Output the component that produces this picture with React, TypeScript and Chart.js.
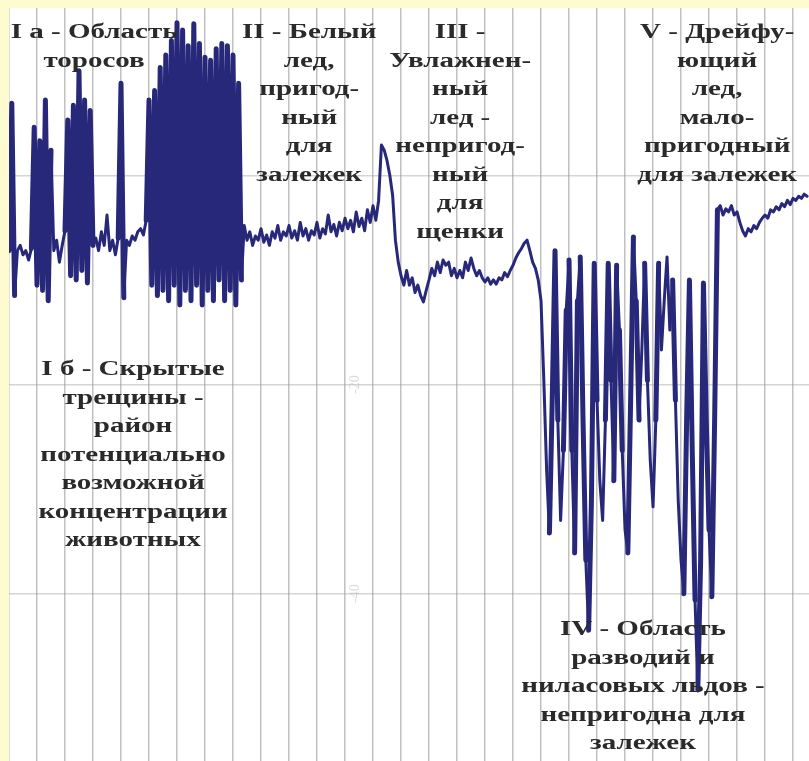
import React, { useEffect, useRef } from "react";
import { Chart, registerables } from "chart.js";

Chart.register(...registerables);

// Signal samples (one per distance unit, 0..285), in dB-like units
const signalValues: number[] = [
  -7.2, 6.9, -11.5, -7.2, -6.7, -7.6, -7.2, -8.1, -7.0, 4.6,
  -10.5, 3.3, -11.0, 7.2, -12.0, 2.4, -7.2, -6.2, -8.3, -6.7,
  -5.3, 5.3, -9.6, 6.7, -10.0, 10.0, -9.1, 7.2, -10.3, 6.2,
  -6.7, -6.0, -7.2, -5.4, -6.7, -3.8, -7.2, -6.2, -7.6, -6.0,
  8.8, -11.7, -6.2, -6.7, -5.8, -6.2, -5.4, -5.1, -5.7, -4.3,
  7.2, -10.5, 8.1, -11.5, 10.3, -11.0, 11.5, -12.0, 12.9, -10.5,
  14.6, -12.4, 13.9, -11.0, 12.4, -12.0, 14.5, -10.5, 12.6, -12.4,
  11.3, -11.0, 11.0, -12.0, 12.1, -10.0, 12.6, -12.0, 12.4, -11.0,
  11.5, -12.4, 8.8, -10.0, -4.8, -6.2, -5.4, -6.7, -5.8, -6.2,
  -5.1, -6.4, -5.7, -6.7, -5.4, -6.0, -4.8, -6.2, -5.4, -5.8,
  -4.8, -6.0, -5.3, -6.2, -4.5, -5.8, -5.1, -6.2, -5.3, -5.7,
  -4.5, -6.0, -5.1, -5.6, -3.8, -5.4, -4.7, -5.8, -4.5, -5.3,
  -4.1, -5.1, -4.3, -5.4, -3.5, -4.9, -4.1, -5.3, -3.3, -4.5,
  -2.9, -4.3, -2.4, 2.9, 2.4, 1.4, 0, -1.9, -6.2, -8.3,
  -9.6, -10.5, -9.1, -10.5, -9.8, -11.2, -10.5, -11.5, -12.1, -11.0,
  -10.0, -8.9, -9.6, -8.3, -9.3, -8.1, -8.6, -8.3, -9.6, -8.9,
  -9.8, -9.1, -9.8, -8.3, -9.1, -7.9, -8.9, -9.6, -9.1, -9.8,
  -10.2, -9.8, -10.4, -10.0, -10.4, -9.8, -10.0, -9.3, -9.7, -9.1,
  -8.6, -7.9, -7.4, -7.0, -6.5, -6.2, -7.2, -8.3, -8.9, -10.0,
  -12.0, -19.6, -28.2, -34.2, -21.5, -7.2, -23.4, -33.0, -26.3, -12.9,
  -8.1, -26.3, -36.1, -12.0, -7.8, -23.4, -36.8, -43.5, -31.1, -8.4,
  -21.5, -29.2, -33.0, -23.4, -8.4, -19.6, -29.2, -8.6, -14.8, -26.3,
  -33.9, -36.1, -21.5, -5.9, -12.0, -23.4, -16.7, -8.4, -19.6, -27.2,
  -31.7, -23.4, -8.4, -16.7, -12.0, -7.8, -14.8, -10.0, -21.5, -31.1,
  -36.8, -40.0, -23.4, -10.0, -26.3, -40.6, -49.2, -36.8, -10.3, -23.4,
  -33.9, -40.3, -23.4, -3.3, -2.9, -3.8, -3.2, -3.5, -2.9, -3.8,
  -3.5, -4.5, -5.3, -5.8, -5.1, -5.4, -4.8, -5.1, -4.5, -4.1,
  -3.8, -4.1, -3.3, -3.5, -3.0, -3.3, -2.7, -3.0, -2.4, -2.8,
  -2.2, -2.4, -2.0, -2.2, -1.8, -2.0,
];

// Axis ranges and grid ticks
const xMin = 0;
const xMax = 285.7;
const xGridTicks: number[] = [0, 10, 20, 30, 40, 50, 60, 70, 80, 90, 100, 110, 120, 130, 140, 150, 160, 170, 180, 190, 200, 210, 220, 230, 240, 250, 260, 270, 280];
const yMin = -56;
const yMax = 16;
const yGridTicks: number[] = [-40, -20, 0];
const yTickLabels: string[] = ["-20", "-40"];
const yTickLabelValues: number[] = [-20, -40];
const yTickLabelX = 123.6;

// Zone annotations
const annotationLines: string[][] = [
  ["I а - Область", "торосов"],
  ["II - Белый", "лед,", "пригод-", "ный", "для", "залежек"],
  ["III -", "Увлажнен-", "ный", "лед -", "непригод-", "ный", "для", "щенки"],
  ["V - Дрейфу-", "ющий", "лед,", "мало-", "пригодный", "для залежек"],
  ["I б - Скрытые", "трещины -", "район", "потенциально", "возможной", "концентрации", "животных"],
  ["IV - Область", "разводий и", "ниласовых льдов -", "непригодна для", "залежек"],
];
const annotationX: number[] = [30.4, 107.2, 161.1, 252.9, 44.3, 226.4];
const annotationY: number[] = [13.6, 13.6, 13.6, 13.6, -18.6, -43.5];

const TEXT_SIZE = 20;
const LINE_STEP = 28.5;
const STRETCH = 1.45;

const annotationPlugin = {
  id: "zoneAnnotations",
  afterDatasetsDraw(chart: any) {
    const { ctx, scales } = chart;
    const xs = scales.x;
    const ys = scales.y;
    ctx.save();
    ctx.font = `14px "Liberation Serif", serif`;
    ctx.fillStyle = "rgba(190,190,190,0.55)";
    ctx.textAlign = "center";
    ctx.textBaseline = "middle";
    yTickLabels.forEach((t, k) => {
      ctx.save();
      ctx.translate(xs.getPixelForValue(yTickLabelX), ys.getPixelForValue(yTickLabelValues[k]));
      ctx.rotate(-Math.PI / 2);
      ctx.fillText(t, 0, 0);
      ctx.restore();
    });
    ctx.font = `bold ${TEXT_SIZE}px "Liberation Serif", "Times New Roman", serif`;
    ctx.fillStyle = "#2a2a2a";
    annotationLines.forEach((lines, i) => {
      const cx = xs.getPixelForValue(annotationX[i]);
      const cy = ys.getPixelForValue(annotationY[i]);
      lines.forEach((line, k) => {
        ctx.save();
        ctx.translate(cx, cy + k * LINE_STEP);
        ctx.scale(STRETCH, 1);
        ctx.fillText(line, 0, 0);
        ctx.restore();
      });
    });
    ctx.restore();
  },
};

export default function App() {
  const canvasRef = useRef<HTMLCanvasElement | null>(null);

  useEffect(() => {
    if (!canvasRef.current) return;
    const points = signalValues.map((v, i) => ({ x: i, y: v }));
    const chart = new Chart(canvasRef.current, {
      type: "line",
      data: {
        datasets: [
          {
            data: points,
            borderColor: "#28287a",
            borderWidth: 3,
            borderCapStyle: "round",
            borderJoinStyle: "round",
            pointRadius: 0,
            tension: 0,
            fill: false,
            segment: {
              borderWidth: (c: any) => (Math.abs(c.p1.parsed.y - c.p0.parsed.y) > 10 ? 5 : 3),
            },
          },
        ],
      },
      options: {
        animation: false,
        responsive: false,
        maintainAspectRatio: false,
        layout: { padding: 0 },
        plugins: { legend: { display: false }, tooltip: { enabled: false } },
        scales: {
          x: {
            type: "linear",
            min: xMin,
            max: xMax,
            afterBuildTicks: (scale: any) => {
              scale.ticks = xGridTicks.map((v) => ({ value: v }));
            },
            ticks: { display: false },
            border: { display: false },
            grid: { color: "rgba(130,130,130,0.5)", lineWidth: 1.5, drawTicks: false },
          },
          y: {
            type: "linear",
            min: yMin,
            max: yMax,
            afterBuildTicks: (scale: any) => {
              scale.ticks = yGridTicks.map((v) => ({ value: v }));
            },
            ticks: { display: false },
            border: { display: false },
            grid: { color: "rgba(150,150,150,0.4)", lineWidth: 1.5, drawTicks: false },
          },
        },
      },
      plugins: [annotationPlugin],
    });
    return () => chart.destroy();
  }, []);

  return (
    <div style={{ position: "fixed", left: 0, top: 0, right: 0, bottom: 0, background: "#fffbd0" }}>
      <div style={{ position: "absolute", left: 9, top: 8, width: 800, height: 753, background: "#ffffff" }}>
        <canvas ref={canvasRef} width={800} height={753} style={{ display: "block" }} />
      </div>
    </div>
  );
}
